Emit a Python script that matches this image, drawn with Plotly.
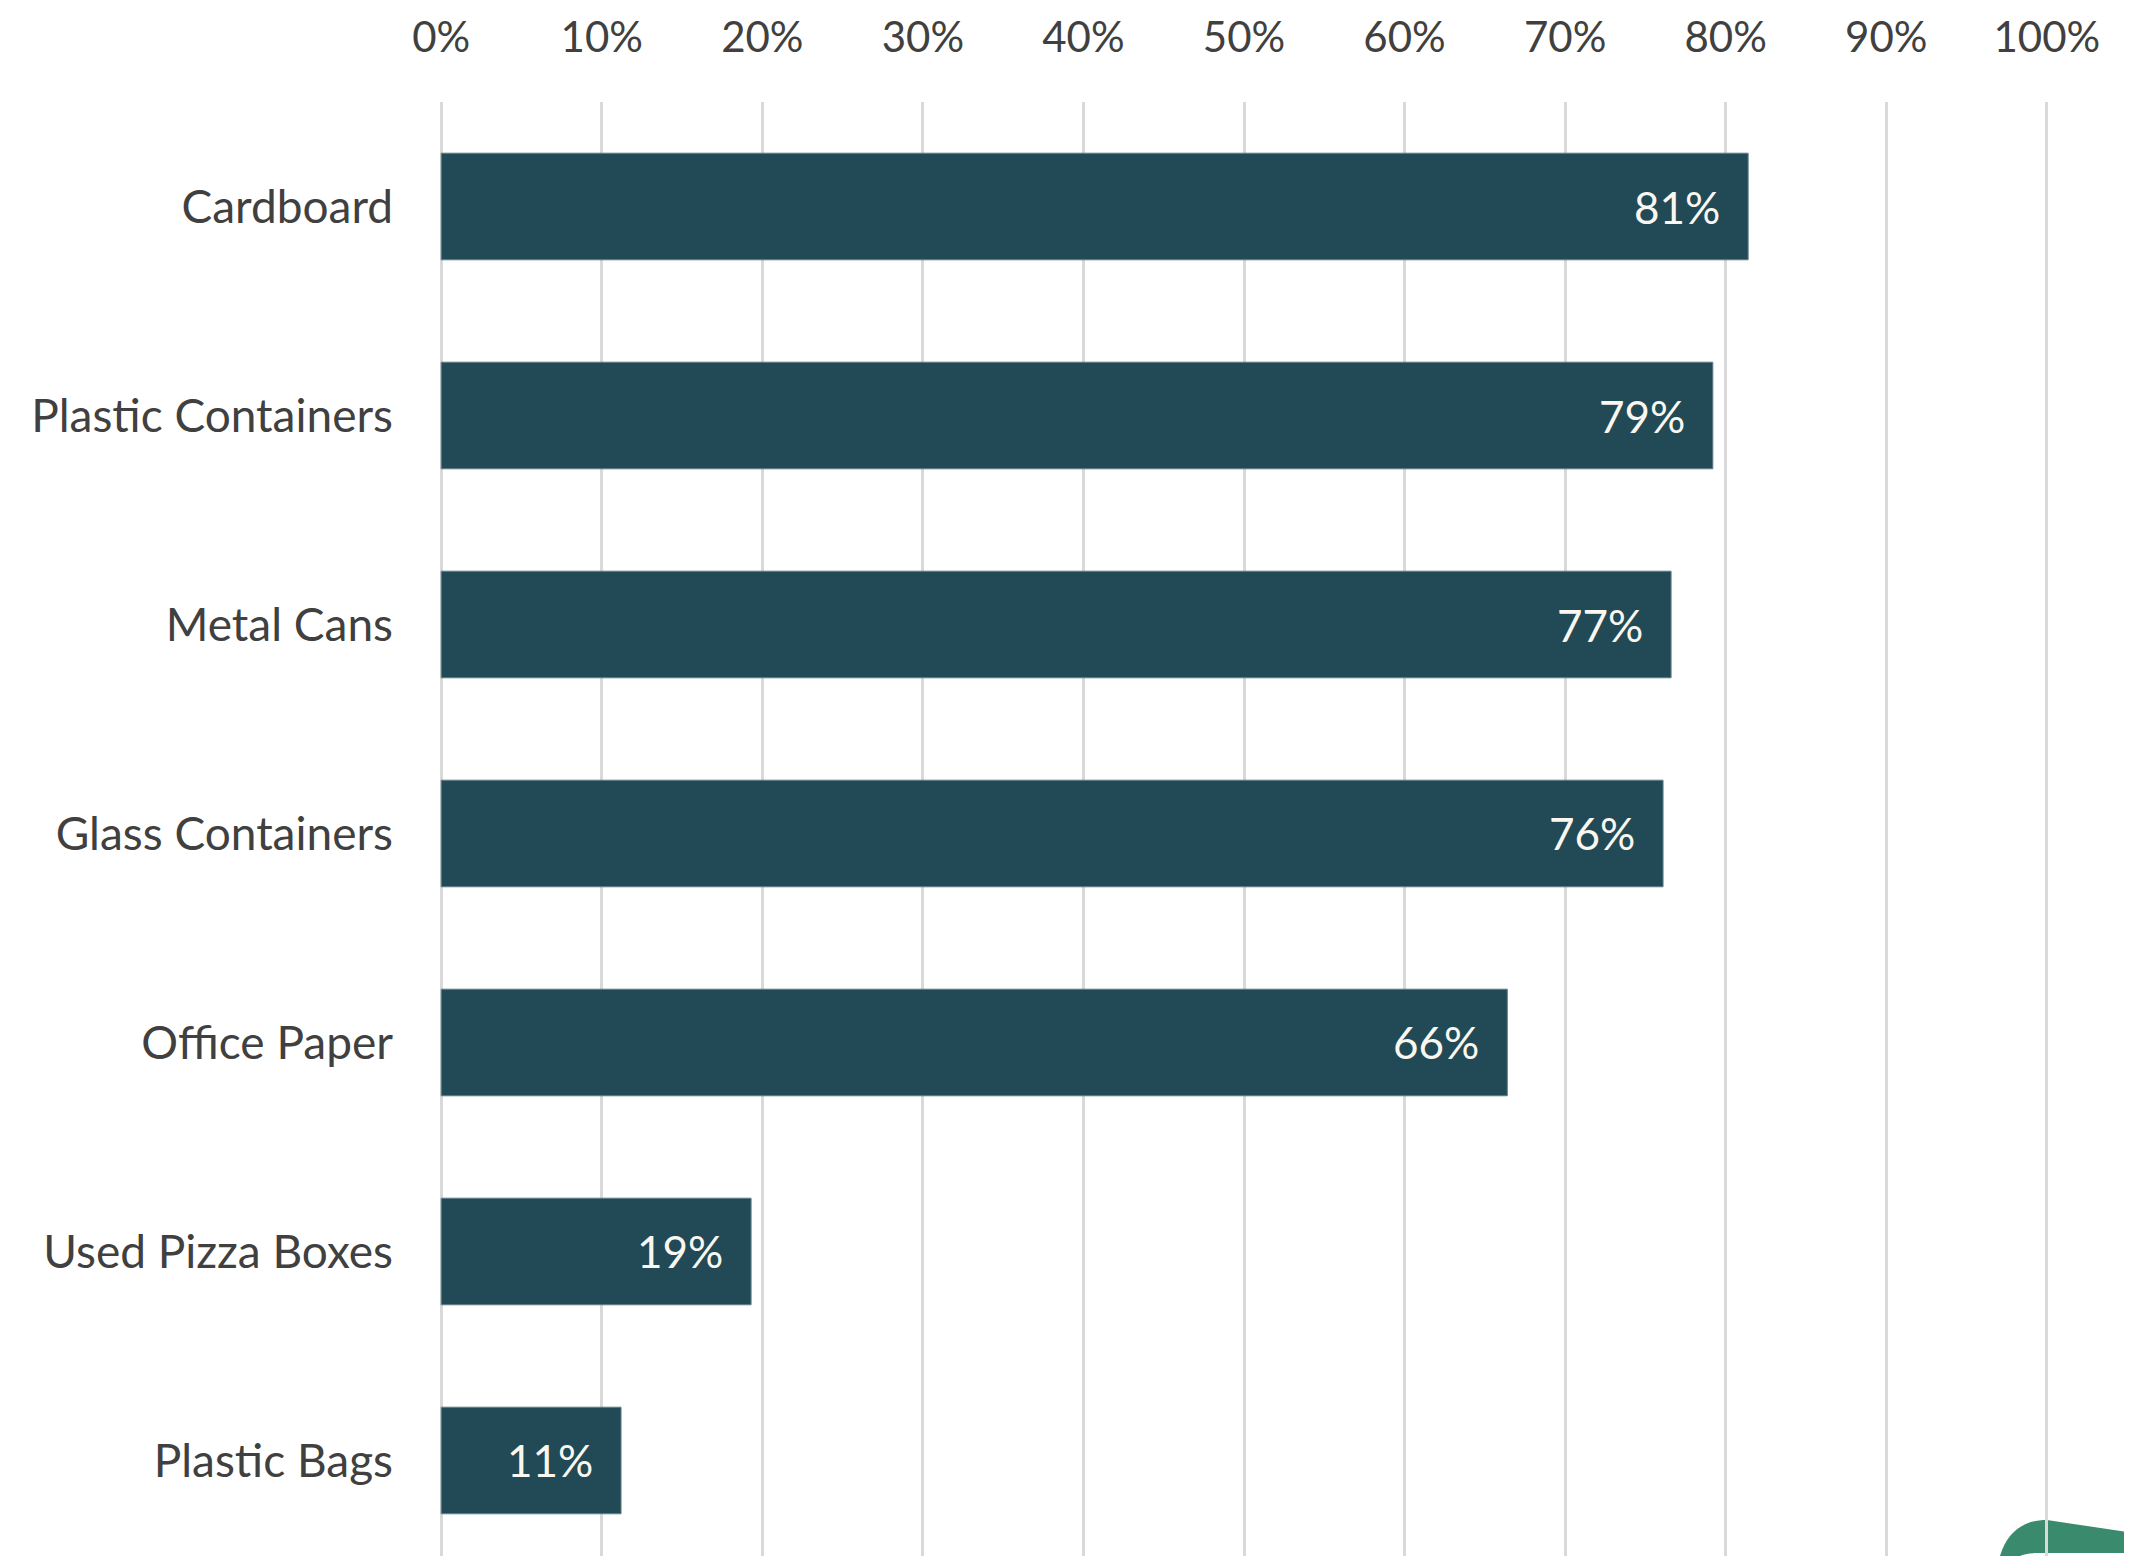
import plotly.graph_objects as go

categories = ["Cardboard", "Plastic Containers", "Metal Cans", "Glass Containers",
              "Office Paper", "Used Pizza Boxes", "Plastic Bags"]
values = [0.814, 0.792, 0.766, 0.761, 0.664, 0.193, 0.112]
tick_vals = [i / 10 for i in range(11)]
tick_text = [f"{i * 10}%" for i in range(11)]

W, H = 2132, 1556
OFF = 8  # default page body margin
L, R, T, B = 438 - OFF, 82 + OFF, 102 - OFF, OFF
BAR = "#214A56"
FONT = "Lato, Carlito, Calibri, sans-serif"

fig = go.Figure()
fig.add_trace(go.Bar(
    y=categories, x=values, orientation="h",
    marker=dict(color=BAR, line=dict(color="#5E7F88", width=1)),
    hoverinfo="skip",
))

for c, v in zip(categories, values):
    fig.add_annotation(
        x=v, y=c, xref="x", yref="y", text=f"{round(v * 100)}%",
        xanchor="right", yanchor="middle", xshift=-26, showarrow=False,
        font=dict(family=FONT, size=44, color="#FAF7F0"),
    )

# decorative green swoosh at bottom-right corner (page pixel geometry -> paper)
pw, ph = W - L - R, H - T - B
def px(x):
    return (x - OFF - L) / pw
def py(y):
    return (H - B - (y - OFF)) / ph
path = (f"M {px(2000)},{py(1556)} C {px(2008)},{py(1530)} {px(2025)},{py(1520)} {px(2047)},{py(1520)} "
        f"L {px(2140)},{py(1534)} L {px(2140)},{py(1553)} L {px(2040)},{py(1553)} "
        f"C {px(2030)},{py(1553)} {px(2024)},{py(1554)} {px(2020)},{py(1556)} Z")
fig.add_shape(type="path", path=path, xref="paper", yref="paper",
              fillcolor="#3A8A6E", line=dict(width=0), layer="below")

fig.update_layout(
    width=W, height=H,
    margin=dict(l=L, r=R, t=T, b=B, pad=0),
    paper_bgcolor="white", plot_bgcolor="rgba(0,0,0,0)",
    bargap=0.49, showlegend=False,
    font=dict(family=FONT, size=44, color="#404040"),
    xaxis=dict(
        side="top", range=[-0.002, 1.002], tickvals=tick_vals, ticktext=tick_text,
        showgrid=True, gridcolor="#D9D9D9", gridwidth=3, zeroline=False,
        showline=False, ticks="", ticklabelstandoff=41, automargin=False,
        tickfont=dict(family=FONT, size=42, color="#404040"),
        fixedrange=True,
    ),
    yaxis=dict(
        categoryorder="array", categoryarray=categories,
        range=[6.457, -0.5], showgrid=False, zeroline=False, showline=False,
        ticks="", ticklabelstandoff=44, automargin=False,
        tickfont=dict(family=FONT, size=46, color="#404040"),
        fixedrange=True,
    ),
)

fig.write_html("out.html")
